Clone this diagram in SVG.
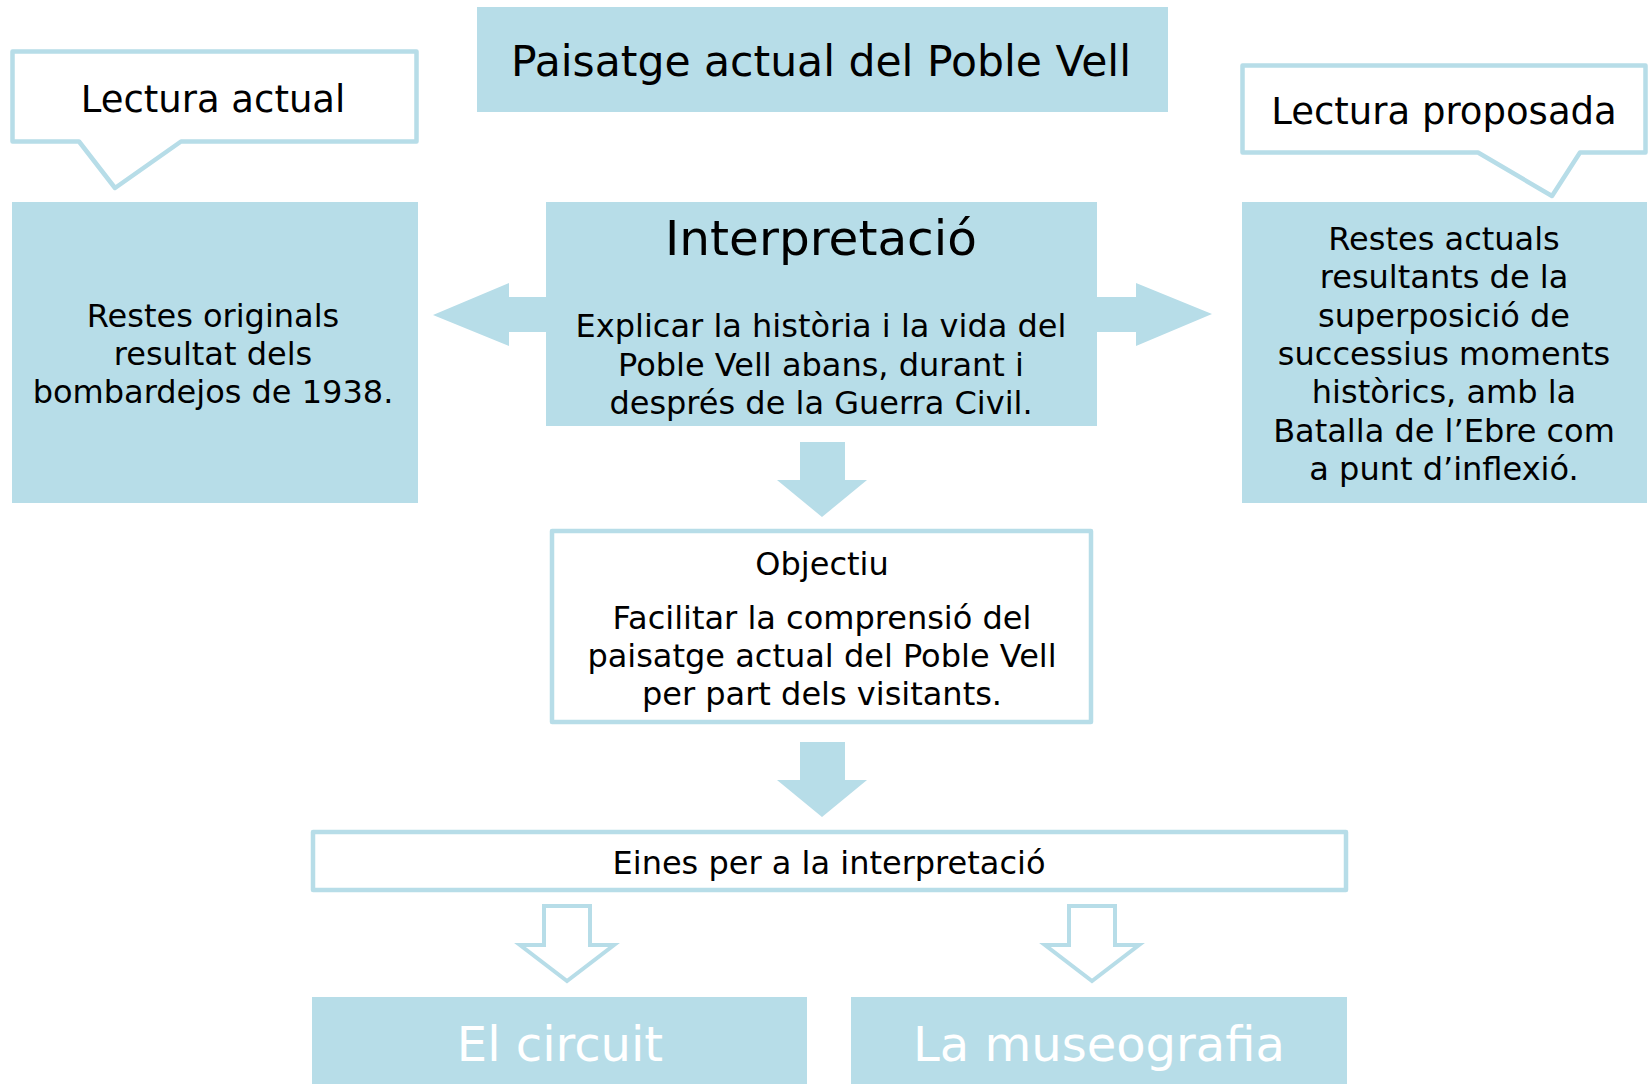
<svg xmlns="http://www.w3.org/2000/svg" width="1650" height="1084" viewBox="0 0 1650 1084">
<style>
.fill{fill:#B7DDE8;}
.outline{fill:#FFFFFF;stroke:#B7DDE8;stroke-width:4.5;stroke-linejoin:round;}
.hollow{fill:#FFFFFF;stroke:#B7DDE8;stroke-width:4;stroke-linejoin:miter;}
text{font-family:"DejaVu Sans","Verdana",sans-serif;fill:#000000;text-anchor:middle;}
.t32{font-size:32px;}
.t37{font-size:37px;}
.t42{font-size:42.5px;}
.t48{font-size:48px;}
.white{fill:#FFFFFF;}
</style>
<rect width="1650" height="1084" fill="#FFFFFF"/>

<g id="title">
<rect class="fill" x="477" y="7" width="691" height="105"/>
<text class="t42" x="821" y="76">Paisatge actual del Poble Vell</text>
</g>

<g id="lectura-actual">
<path class="outline" d="M12.5,51.5 H416.5 V141.5 H181 L115,188 L79,141.5 H12.5 Z"/>
<text class="t37" x="213" y="112">Lectura actual</text>
</g>

<g id="lectura-proposada">
<path class="outline" d="M1242.5,65.5 H1645.5 V152.5 H1580 L1552,196 L1478,152.5 H1242.5 Z"/>
<text class="t37" x="1444" y="124">Lectura proposada</text>
</g>

<g id="restes-originals">
<rect class="fill" x="12" y="202" width="406" height="301"/>
<text class="t32" x="213" y="327">Restes originals</text>
<text class="t32" x="213" y="365">resultat dels</text>
<text class="t32" x="213" y="403">bombardejos de 1938.</text>
</g>

<g id="restes-actuals">
<rect class="fill" x="1242" y="202" width="405" height="301"/>
<text class="t32" x="1444" y="250">Restes actuals</text>
<text class="t32" x="1444" y="288.3">resultants de la</text>
<text class="t32" x="1444" y="326.7">superposició de</text>
<text class="t32" x="1444" y="365">successius moments</text>
<text class="t32" x="1444" y="403.3">històrics, amb la</text>
<text class="t32" x="1444" y="441.7">Batalla de l’Ebre com</text>
<text class="t32" x="1444" y="480">a punt d’inflexió.</text>
</g>

<g id="interpretacio">
<rect class="fill" x="546" y="202" width="551" height="224"/>
<text class="t48" x="821" y="255" style="font-size:48.5px">Interpretació</text>
<text class="t32" x="821" y="337">Explicar la història i la vida del</text>
<text class="t32" x="821" y="375.5">Poble Vell abans, durant i</text>
<text class="t32" x="821" y="414">després de la Guerra Civil.</text>
</g>

<g id="objectiu">
<rect class="outline" x="552" y="531" width="539" height="191"/>
<text class="t32" x="822" y="575">Objectiu</text>
<text class="t32" x="822" y="629">Facilitar la comprensió del</text>
<text class="t32" x="822" y="667">paisatge actual del Poble Vell</text>
<text class="t32" x="822" y="705">per part dels visitants.</text>
</g>

<g id="eines">
<rect class="outline" x="313" y="832" width="1033" height="58"/>
<text class="t32" x="829" y="874">Eines per a la interpretació</text>
</g>

<g id="el-circuit">
<rect class="fill" x="312" y="997" width="495" height="87"/>
<text class="t48 white" x="560" y="1061">El circuit</text>
</g>

<g id="la-museografia">
<rect class="fill" x="851" y="997" width="496" height="87"/>
<text class="t48 white" x="1099" y="1061">La museografia</text>
</g>

<g id="connectors">
<polygon class="fill" points="546,297 509,297 509,283 433,315 509,346 509,332 546,332"/>
<polygon class="fill" points="1097,297 1136,297 1136,283 1212,314 1136,346 1136,332 1097,332"/>
<polygon class="fill" points="800,442 845,442 845,480 867,480 822,517 777,480 800,480"/>
<polygon class="fill" points="800,742 845,742 845,780 867,780 822,817 777,780 800,780"/>
<polygon class="hollow" points="544,906 590,906 590,945 614,945 567,981 520,945 544,945"/>
<polygon class="hollow" points="1069,906 1115,906 1115,945 1139,945 1092,981 1045,945 1069,945"/>
</g>
</svg>
